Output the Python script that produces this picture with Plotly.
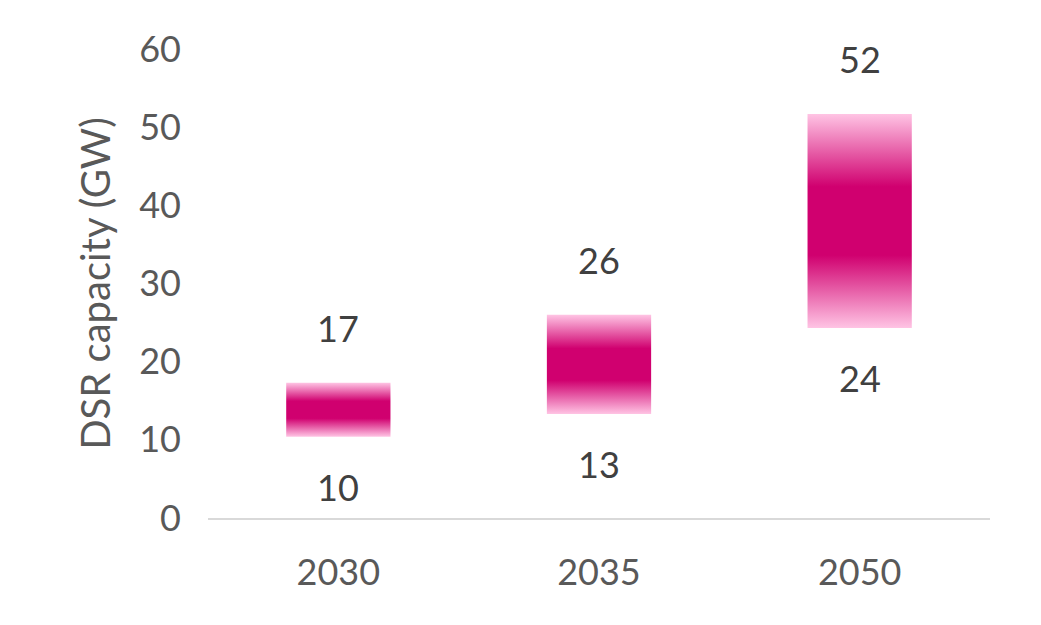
import plotly.graph_objects as go

# DSR capacity ranges (GW)
years = ['2030', '2035', '2050']
low = [10.4, 13.3, 24.3]
high = [17.3, 26.0, 51.7]
low_labels = [10, 13, 24]
high_labels = [17, 26, 52]

DARK = '#D0006F'
LIGHT = '#FFC4E4'
FONT = 'Lato'
BAR_HALF = 0.2

fig = go.Figure()

# floating bars with a vertical light-dark-light gradient
for i, yr in enumerate(years):
    fig.add_trace(go.Scatter(
        x=[i - BAR_HALF, i + BAR_HALF, i + BAR_HALF, i - BAR_HALF, i - BAR_HALF],
        y=[low[i], low[i], high[i], high[i], low[i]],
        mode='lines',
        line=dict(width=0),
        fill='toself',
        fillgradient=dict(
            type='vertical',
            colorscale=[[0, LIGHT], [0.34, DARK], [0.66, DARK], [1, LIGHT]],
        ),
        hoverinfo='skip',
        showlegend=False,
        name=yr,
    ))

    # value labels above and below each bar
    fig.add_annotation(x=i, y=high[i], text=str(high_labels[i]), showarrow=False,
                       yshift=55, font=dict(family=FONT, size=36, color='#404040'))
    fig.add_annotation(x=i, y=low[i], text=str(low_labels[i]), showarrow=False,
                       yshift=-50, font=dict(family=FONT, size=36, color='#404040'))

fig.update_layout(
    width=1041,
    height=625,
    margin=dict(l=200, r=59, t=41, b=115),
    plot_bgcolor='white',
    paper_bgcolor='white',
    font=dict(family=FONT, size=36, color='#595959'),
)

fig.update_xaxes(
    range=[-0.5, 2.5],
    tickvals=list(range(len(years))),
    ticktext=years,
    showgrid=False,
    zeroline=False,
    showline=True,
    linecolor='#D9D9D9',
    linewidth=2,
    ticklabelstandoff=22,
)

fig.update_yaxes(
    range=[0, 60],
    dtick=10,
    showgrid=False,
    zeroline=False,
    showline=False,
    ticklabelstandoff=26,
    title=dict(text='DSR capacity (GW)', standoff=16, font=dict(size=40, color='#595959')),
)

fig.write_html("out.html")
